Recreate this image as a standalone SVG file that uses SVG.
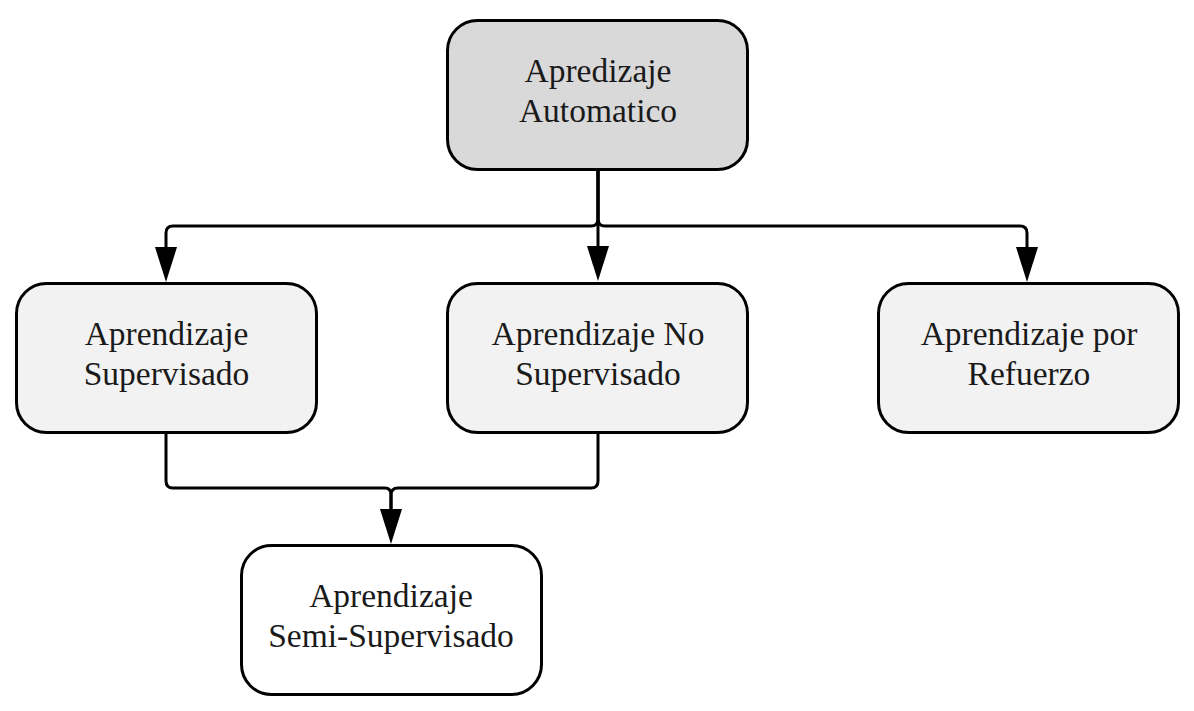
<svg xmlns="http://www.w3.org/2000/svg" width="1194" height="711" viewBox="0 0 1194 711">
<defs>
<style>
.box{stroke:#000;stroke-width:3}
.lbl{font-family:"Liberation Serif","Times New Roman",serif;font-size:33.5px;fill:#1a1a1a;text-anchor:middle}
.edge{fill:none;stroke:#000;stroke-width:3}
.head{fill:#000}
</style>
</defs>
<rect width="1194" height="711" fill="#fff"/>
<g id="connectors">
<path class="edge" d="M598,170 V246"/>
<path class="head" d="M587,246 L609,246 L598,281 Z"/>
<path class="edge" d="M598,170 V219 Q598,226 591,226 H173 Q166,226 166,233 V247"/>
<path class="head" d="M155,247 L177,247 L166,282 Z"/>
<path class="edge" d="M598,170 V219 Q598,226 605,226 H1020 Q1027,226 1027,233 V247"/>
<path class="head" d="M1016,247 L1038,247 L1027,282 Z"/>
<path class="edge" d="M166,433 V481 Q166,488 173,488 H385 Q391,488 391,495 V509"/>
<path class="edge" d="M598,433 V481 Q598,488 591,488 H398 Q391,488 391,495 V509"/>
<path class="head" d="M380,509 L402,509 L391,544 Z"/>
</g>
<g id="node-automatico">
<rect class="box" x="447.5" y="20.5" width="300" height="149" rx="30" fill="#d9d9d9"/>
<text class="lbl" x="598" y="82">Apredizaje</text>
<text class="lbl" x="598" y="122">Automatico</text>
</g>
<g id="node-supervisado">
<rect class="box" x="16.5" y="283.5" width="300" height="149" rx="30" fill="#f2f2f2"/>
<text class="lbl" x="166.5" y="345">Aprendizaje</text>
<text class="lbl" x="166.5" y="385">Supervisado</text>
</g>
<g id="node-nosupervisado">
<rect class="box" x="447.5" y="283.5" width="300" height="149" rx="30" fill="#f2f2f2"/>
<text class="lbl" x="598" y="345">Aprendizaje No</text>
<text class="lbl" x="598" y="385">Supervisado</text>
</g>
<g id="node-refuerzo">
<rect class="box" x="878.5" y="283.5" width="300" height="149" rx="30" fill="#f2f2f2"/>
<text class="lbl" x="1029" y="345">Aprendizaje por</text>
<text class="lbl" x="1029" y="385">Refuerzo</text>
</g>
<g id="node-semisupervisado">
<rect class="box" x="241.5" y="545.5" width="300" height="149" rx="30" fill="#ffffff"/>
<text class="lbl" x="391" y="607">Aprendizaje</text>
<text class="lbl" x="391" y="647">Semi-Supervisado</text>
</g>
</svg>
